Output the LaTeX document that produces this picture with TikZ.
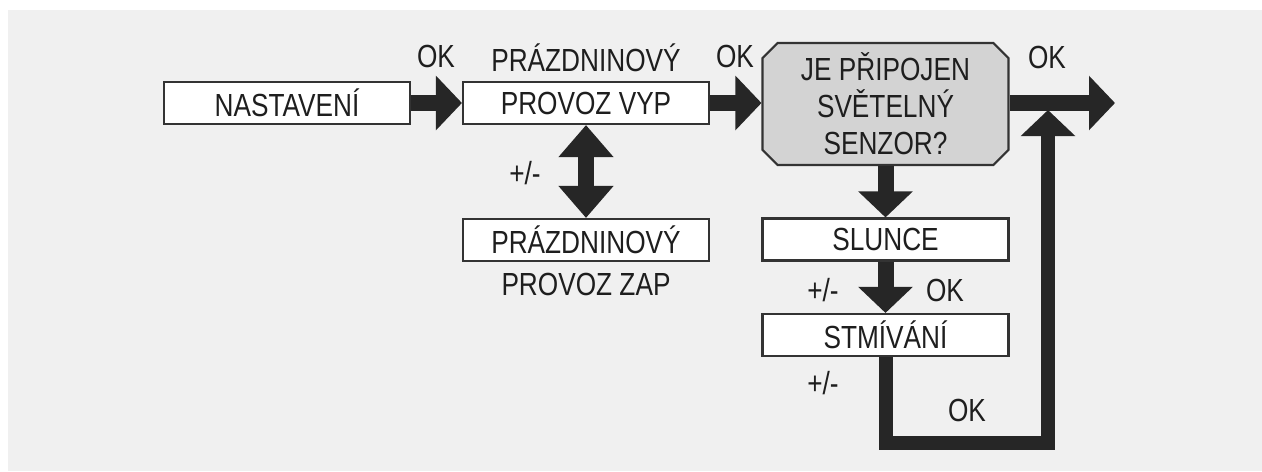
\documentclass[tikz,border=0pt]{standalone}
\usepackage{fontspec}
\setmainfont{Liberation Sans}[FakeStretch=0.82]
\usepackage{xcolor}
\usepackage{tikz}
\usetikzlibrary{arrows.meta,shapes.misc}
\definecolor{panelgray}{HTML}{F0F0F0}
\definecolor{boxline}{HTML}{333333}
\definecolor{askgray}{HTML}{D3D3D3}
\definecolor{arrdark}{HTML}{262626}
\definecolor{txtdark}{HTML}{1E1E1E}
\tikzset{
  box/.style={draw=boxline,fill=white,line width=1.2pt,minimum width=4.92cm,minimum height=0.84cm,inner sep=0pt,align=center,text=txtdark},
  ask/.style={box,chamfered rectangle,chamfered rectangle xsep=0.15cm,chamfered rectangle ysep=0.15cm,fill=askgray,minimum height=2.44cm},
  bigar/.style={-{Triangle[length=0.52cm,width=1.06cm]},draw=arrdark,line width=0.32cm},
  dblar/.style={{Triangle[length=0.64cm,width=1.06cm]}-{Triangle[length=0.64cm,width=1.06cm]},draw=arrdark,line width=0.32cm},
  loopar/.style={bigar,line width=0.28cm,line join=miter},
  lbl/.style={text=txtdark,inner sep=0pt},
  toplbl/.style={label={[lbl,label distance=0.18cm]above:#1}},
  botlbl/.style={label={[lbl,label distance=0.22cm]below:#1}},
}
\begin{document}
\begin{tikzpicture}[x=0.02cm,y=-0.02cm,font=\fontsize{18.2}{21}\selectfont]
  \fill[white] (0,0) rectangle (1262,471);
  \fill[panelgray] (8,10) rectangle (1262,471);
  % boxes
  \node[box] (nast) at (287,103) {NASTAVENÍ};
  \node[box,toplbl={PRÁZDNINOVÝ}] (vyp) at (586,103) {PROVOZ VYP};
  \node[box,botlbl={PROVOZ ZAP}] (zap) at (586,240) {PRÁZDNINOVÝ};
  \node[ask] (senzor) at (885.5,104) {JE PŘIPOJEN\\SVĚTELNÝ\\SENZOR?};
  \node[box] (slunce) at (885.5,239.5) {SLUNCE};
  \node[box] (stmiv) at (885.5,335) {STMÍVÁNÍ};
  \coordinate (ven) at (1115,103);
  \coordinate (roh) at (1048,443);
  \coordinate (zpet) at (1048,110);
  % arrows
  \draw[bigar] (nast.east) -- (vyp.west);
  \draw[bigar] (vyp.east) -- (vyp.east -| senzor.west);
  \draw[dblar] (vyp.south) -- (zap.north);
  \draw[bigar] (senzor.east |- ven) -- (ven);
  \draw[bigar] (senzor.south) -- (slunce.north);
  \draw[bigar] (slunce.south) -- (stmiv.north);
  \draw[loopar] (stmiv.south) |- (roh) -- (zpet);
  % labels
  \node[lbl] (ok1) at (436,56) {OK};
  \node[lbl] (ok2) at (735,56) {OK};
  \node[lbl] (ok3) at (1047,57) {OK};
  \node[lbl] (ok4) at (945,290) {OK};
  \node[lbl] (ok5) at (967,410) {OK};
  \node[lbl] (pm1) at (525,173) {+/-};
  \node[lbl] (pm2) at (823,290) {+/-};
  \node[lbl] (pm3) at (823,383) {+/-};
\end{tikzpicture}
\end{document}
